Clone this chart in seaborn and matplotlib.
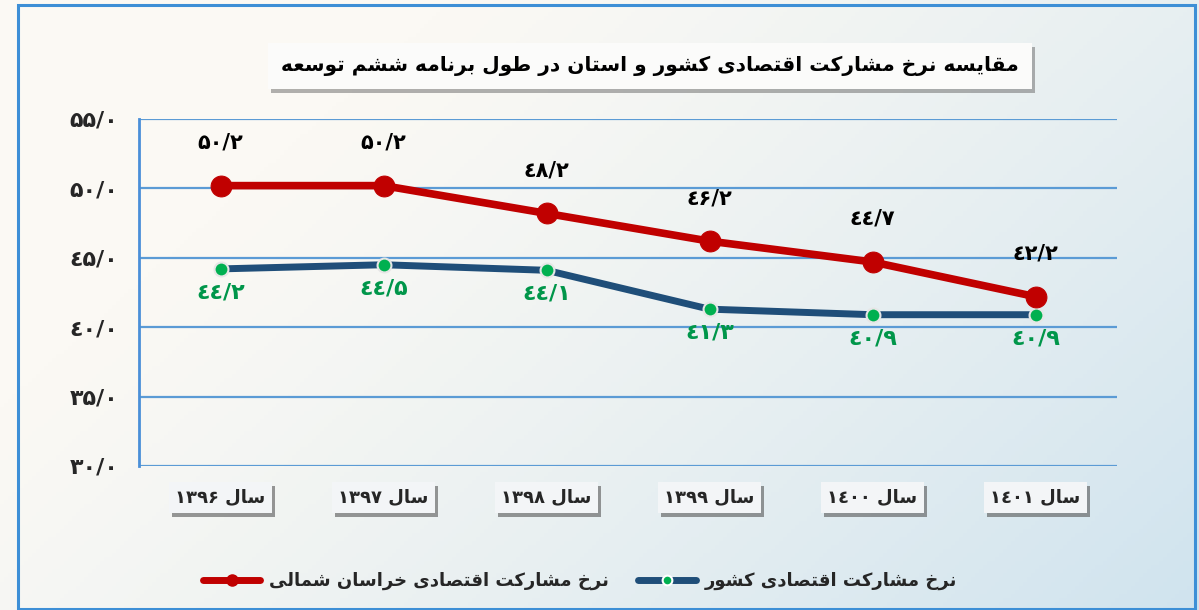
import numpy as np
import pandas as pd
import matplotlib
matplotlib.use('Agg')
import matplotlib.pyplot as plt
import matplotlib.patheffects as pe
from matplotlib.lines import Line2D
from matplotlib.patches import Rectangle
import seaborn as sns

# --- data ---
years = ['۱۳۹۶', '۱۳۹۷', '۱۳۹۸', '۱۳۹۹', '۱٤۰۰', '۱٤۰۱']
khorasan = [50.2, 50.2, 48.2, 46.2, 44.7, 42.2]
keshvar = [44.2, 44.5, 44.1, 41.3, 40.9, 40.9]
y_ticks = [30, 35, 40, 45, 50, 55]

title_text = 'مقایسه نرخ مشارکت اقتصادی کشور و استان در طول برنامه ششم توسعه'
label_khorasan = 'نرخ مشارکت اقتصادی خراسان شمالی'
label_keshvar = 'نرخ مشارکت اقتصادی کشور'
year_prefix = 'سال'

# --- small Persian shaping helper (matplotlib has no RTL/joining support) ---
FORMS = {
    'ا': ('\uFE8D', '\uFE8E', None, None),
    'ب': ('\uFE8F', '\uFE90', '\uFE91', '\uFE92'),
    'ت': ('\uFE95', '\uFE96', '\uFE97', '\uFE98'),
    'خ': ('\uFEA5', '\uFEA6', '\uFEA7', '\uFEA8'),
    'د': ('\uFEA9', '\uFEAA', None, None),
    'ر': ('\uFEAD', '\uFEAE', None, None),
    'س': ('\uFEB1', '\uFEB2', '\uFEB3', '\uFEB4'),
    'ش': ('\uFEB5', '\uFEB6', '\uFEB7', '\uFEB8'),
    'ص': ('\uFEB9', '\uFEBA', '\uFEBB', '\uFEBC'),
    'ط': ('\uFEC1', '\uFEC2', '\uFEC3', '\uFEC4'),
    'ع': ('\uFEC9', '\uFECA', '\uFECB', '\uFECC'),
    'ق': ('\uFED5', '\uFED6', '\uFED7', '\uFED8'),
    'ل': ('\uFEDD', '\uFEDE', '\uFEDF', '\uFEE0'),
    'م': ('\uFEE1', '\uFEE2', '\uFEE3', '\uFEE4'),
    'ن': ('\uFEE5', '\uFEE6', '\uFEE7', '\uFEE8'),
    'ه': ('\uFEE9', '\uFEEA', '\uFEEB', '\uFEEC'),
    'و': ('\uFEED', '\uFEEE', None, None),
    'ک': ('\uFB8E', '\uFB8F', '\uFB90', '\uFB91'),
    'ی': ('\uFBFC', '\uFBFD', '\uFBFE', '\uFBFF'),
}
LTR = set('0123456789۰۱۲۳۴۵۶۷۸۹٠١٢٣٤٥٦٧٨٩/.')


def shape_word(s):
    out = []
    for i, ch in enumerate(s):
        if ch not in FORMS:
            out.append(ch)
            continue
        prev = s[i - 1] if i > 0 else ''
        nxt = s[i + 1] if i + 1 < len(s) else ''
        join_prev = prev in FORMS and FORMS[prev][2] is not None
        join_next = nxt in FORMS and FORMS[ch][2] is not None
        iso, fin, ini, med = FORMS[ch]
        if join_prev and join_next:
            out.append(med)
        elif join_prev:
            out.append(fin)
        elif join_next:
            out.append(ini)
        else:
            out.append(iso)
    return ''.join(out)


def fa(s):
    # split into runs, reverse run order, reverse letters inside RTL runs
    runs = []
    for ch in s:
        kind = ch in LTR
        if runs and runs[-1][0] == kind:
            runs[-1][1] += ch
        else:
            runs.append([kind, ch])
    parts = []
    for kind, txt in reversed(runs):
        parts.append(txt if kind else shape_word(txt)[::-1])
    return ''.join(parts)


def fa_num(v):
    digits = '۰۱۲۳٤۵۶۷۸۹'
    return ''.join(digits[int(c)] if c.isdigit() else '/' for c in f'{v:.1f}')


df = pd.DataFrame({'year': years, 'khorasan': khorasan, 'keshvar': keshvar})

sns.set_style('white')
plt.rcParams['font.family'] = ['DejaVu Sans']

fig = plt.figure(figsize=(11.99, 6.10), dpi=100)

# background gradient
bg = fig.add_axes([0, 0, 1, 1], zorder=-10)
xx, yy = np.meshgrid(np.linspace(0, 1, 300), np.linspace(0, 1, 150))
w = np.clip(0.8 * xx + 0.45 * yy - 0.3, 0, 1) ** 1.2
c0 = np.array([251, 249, 244]) / 255
c1 = np.array([205, 226, 238]) / 255
img = c0[None, None, :] * (1 - w[..., None]) + c1[None, None, :] * w[..., None]
bg.imshow(img, aspect='auto', extent=[0, 1, 0, 1], origin='upper')
bg.set_xlim(0, 1)
bg.set_ylim(0, 1)
bg.axis('off')
fig.patches.append(Rectangle((18 / 1199, 1 - 609 / 610), 1177 / 1199, 604 / 610,
                             transform=fig.transFigure, fill=False,
                             edgecolor='#3d8fd6', lw=2.2, zorder=5))

ax = fig.add_axes([139 / 1199, 144 / 610, 978 / 1199, 347 / 610])
ax.patch.set_alpha(0)

sns.lineplot(data=df, x='year', y='khorasan', ax=ax, color='#C00000', lw=5.5,
             marker='o', markersize=15, markeredgecolor='#C00000', zorder=4)
sns.lineplot(data=df, x='year', y='keshvar', ax=ax, color='#1F4E79', lw=5,
             marker='o', markersize=10, markerfacecolor='#00B050',
             markeredgecolor='#e6e6e6', markeredgewidth=1.5, zorder=3)

for i, v in enumerate(khorasan):
    ax.annotate(fa_num(v), (i, v), xytext=(0, 31), textcoords='offset points',
                ha='center', va='center', fontsize=15, fontweight='bold', color='black')
for i, v in enumerate(keshvar):
    ax.annotate(fa_num(v), (i, v), xytext=(0, -17), textcoords='offset points',
                ha='center', va='center', fontsize=16, fontweight='bold', color='#00964a')

ax.set_xlim(-0.5, 5.5)
ax.set_ylim(30, 55)
ax.set_yticks(y_ticks)
ax.set_yticklabels([fa_num(v) for v in y_ticks], fontsize=16, fontweight='bold')
ax.set_xticks(range(len(years)))
ax.set_xticklabels([fa(f'{year_prefix} {y}') for y in years], fontsize=13, fontweight='bold')
ax.tick_params(axis='y', length=0, pad=15)
ax.tick_params(axis='x', length=0, pad=16)
ax.set_xlabel('')
ax.set_ylabel('')
ax.grid(axis='y', color='#5b9bd5', lw=1.6)
ax.set_axisbelow(True)
for s in ['top', 'right', 'bottom']:
    ax.spines[s].set_visible(False)
ax.spines['left'].set_color('#4a8fd8')
ax.spines['left'].set_linewidth(2)

for t in ax.get_xticklabels():
    t.set_bbox(dict(boxstyle='square,pad=0.35', fc='#f3f5f7', ec='none'))
    t.get_bbox_patch().set_path_effects([
        pe.SimplePatchShadow(offset=(2, -3), shadow_rgbFace='#555555', alpha=0.6),
        pe.Normal()])

# title box
tt = fig.text(650 / 1199, 1 - 66 / 610, fa(title_text), ha='center', va='center',
              fontsize=14.5, fontweight='bold', color='black')
tt.set_bbox(dict(boxstyle='square,pad=0.65', fc='#fbfbfa', ec='none'))
tt.get_bbox_patch().set_path_effects([
    pe.SimplePatchShadow(offset=(2, -3), shadow_rgbFace='#666666', alpha=0.5),
    pe.Normal()])

# legend
handles = [
    Line2D([], [], color='#C00000', lw=5, marker='o', markersize=8,
           markerfacecolor='#C00000', markeredgecolor='#C00000'),
    Line2D([], [], color='#1F4E79', lw=5, marker='o', markersize=7,
           markerfacecolor='#00B050', markeredgecolor='white', markeredgewidth=1.5),
]
fig.legend(handles, [fa(label_khorasan), fa(label_keshvar)], loc='center',
           bbox_to_anchor=(580 / 1199, 1 - 581 / 610), ncol=2, frameon=False,
           prop={'size': 13, 'weight': 'bold'}, handlelength=3.2,
           handletextpad=0.5, columnspacing=1.6)

fig.savefig('out.png', dpi=100)
